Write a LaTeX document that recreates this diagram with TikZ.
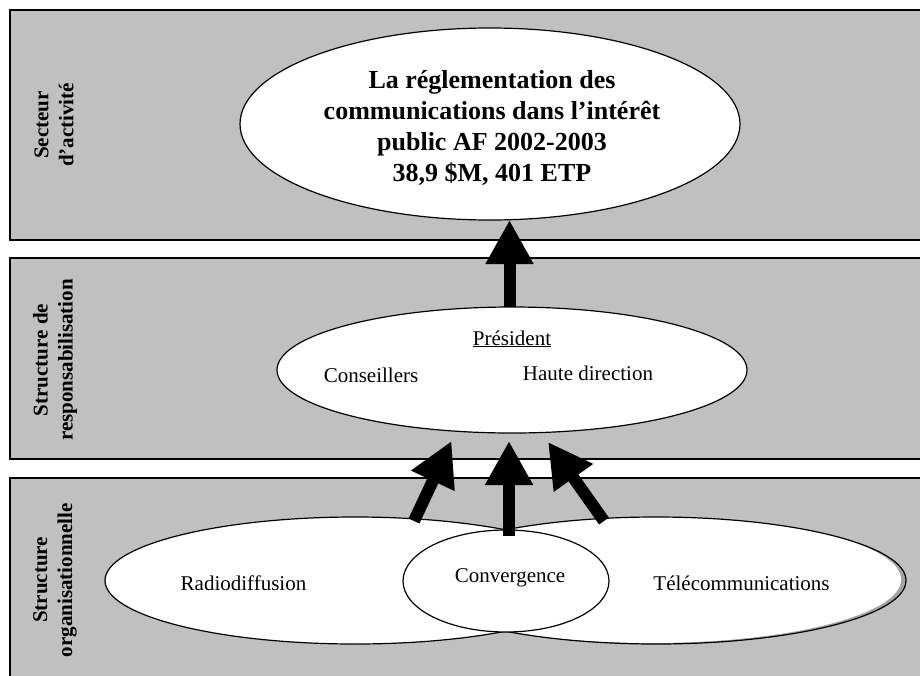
\documentclass[tikz,border=0pt]{standalone}
\usepackage{fontspec}
\setmainfont{Liberation Serif}
\usetikzlibrary{arrows.meta,shapes.geometric,calc}
\definecolor{bandgray}{RGB}{192,192,192}
\definecolor{shadowgray}{RGB}{165,165,165}
\begin{document}
\begin{tikzpicture}[x=1pt,y=-1pt,
  band/.style={draw=black, line width=1.3pt, fill=bandgray},
  oval/.style={ellipse, draw=black, line width=1.2pt, fill=white, inner sep=0pt, outer sep=0pt},
  bigarrow/.style={line width=12pt, -{Triangle[width=45pt,length=44pt]}},
  sidelabel/.style={rotate=90, align=center, inner sep=0pt, font=\bfseries\fontsize{21}{25}\selectfont},
  bigtext/.style={font=\bfseries\fontsize{26}{31}\selectfont, align=center},
  txt/.style={font=\fontsize{21}{25}\selectfont, inner sep=0pt, anchor=base}]
\useasboundingbox (0,0) rectangle (920,675);
\clip (0,0) rectangle (920,675);
\fill[white] (0,0) rectangle (920,675);

% bands
\path[band] (10,10) rectangle (940,240);
\path[band] (10,258) rectangle (940,459);
\path[band] (10,478) rectangle (940,700);

% side labels
\node[sidelabel] (l1) at (54,125) {Secteur\\d’activité};
\node[sidelabel] (l2) at (55,360) {Structure de\\responsabilisation};
\node[sidelabel] (l3) at (55,580) {Structure\\organisationnelle};

% top ellipse
\node[oval, minimum width=500pt, minimum height=192pt] (top) at (490,124) {};
\node[bigtext] (toptext) at (492,128) {La réglementation des\\communications dans l’intérêt\\public AF 2002-2003\\38,9 \$M, 401 ETP};

% middle ellipse
\node[oval, minimum width=470pt, minimum height=126pt] (mid) at (512,370) {};
\node[txt] (pres) at (512,345) {\underline{Président}};
\node[txt] (cons) at (371,382) {Conseillers};
\node[txt] (haute) at (588,380) {Haute direction};

% bottom ellipses
\node[oval, minimum width=500pt, minimum height=127pt] (radio) at (355,580.5) {};
\node[oval, draw=none, fill=shadowgray, minimum width=500pt, minimum height=127pt] (tel) at (656,580.5) {};
\begin{scope}
  \clip (656,580.5) ellipse [x radius=250, y radius=63.5];
  \fill[white] (651,579.5) ellipse [x radius=250, y radius=63.5];
\end{scope}
\node[oval, fill=none, minimum width=500pt, minimum height=127pt] (telout) at (656,580.5) {};
\node[oval, minimum width=206pt, minimum height=102pt] (conv) at (506,581) {};

\node[txt] (radiotext) at (243.5,590) {Radiodiffusion};
\node[txt] (convtext) at (510,582) {Convergence};
\node[txt] (teltext) at (741.5,590) {Télécommunications};

% arrows
\coordinate (a0) at ($(mid.north)+(-2.5,0)$);
\draw[bigarrow] (a0) -- (a0 |- top.south);

\coordinate (c0) at (509,536);
\coordinate (c1) at (509,441);
\coordinate (lt0) at (414,521);
\coordinate (lt1) at (451.5,441);
\coordinate (rt0) at (604,521);
\coordinate (rt1) at (548,442);
\draw[bigarrow] (c0) -- (c1);
\draw[bigarrow] (lt0) -- (lt1);
\draw[bigarrow] (rt0) -- (rt1);
\end{tikzpicture}
\end{document}
